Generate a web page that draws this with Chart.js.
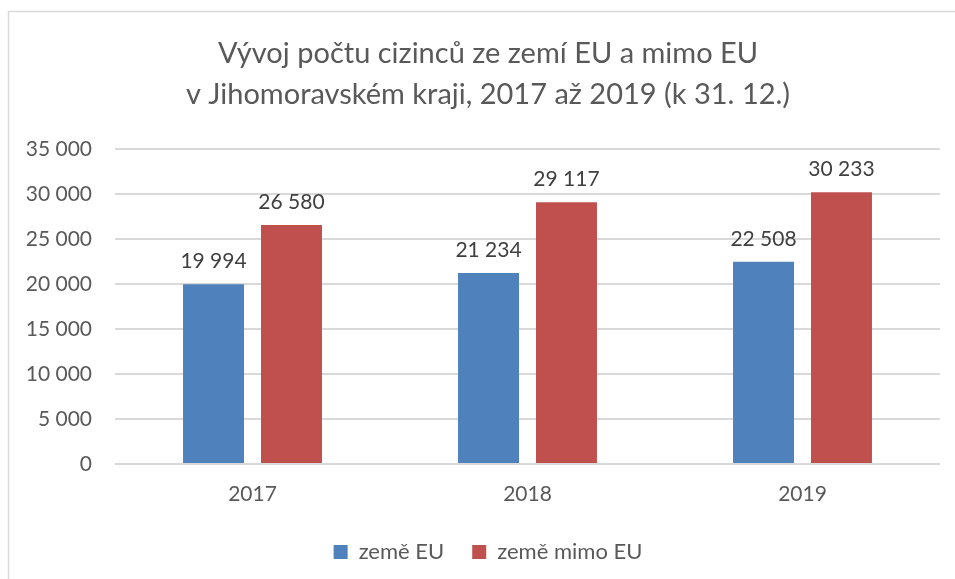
<!DOCTYPE html>
<html><head><meta charset="utf-8">
<script src="https://cdn.jsdelivr.net/npm/chart.js@4"></script>
<style>html,body{margin:0;padding:0;background:#fff}#wrap{width:955px;height:579px}</style>
</head><body><div id="wrap"><canvas id="c" width="955" height="579"></canvas></div>
<script>
const categories = ['2017', '2018', '2019'];
const seriesEU = [19994, 21234, 22508];
const seriesNonEU = [26580, 29117, 30233];
const seriesNames = ['země EU', 'země mimo EU'];
const titleLines = ['Vývoj počtu cizinců ze zemí EU a mimo EU', 'v Jihomoravském kraji, 2017 až 2019 (k 31. 12.)'];

const fmt = v => String(v).replace(/\B(?=(\d{3})+(?!\d))/g, ' ');
const FONT = 'Lato, "Open Sans", sans-serif';

const frame = {
  id: 'frame',
  beforeDraw(chart) {
    const ctx = chart.ctx;
    ctx.save();
    ctx.fillStyle = '#fff';
    ctx.fillRect(0, 0, chart.width, chart.height);
    ctx.strokeStyle = '#d9d9d9';
    ctx.lineWidth = 1.5;
    ctx.strokeRect(8.5, 11.5, 2000, 2000);
    ctx.restore();
  }
};
const labels = {
  id: 'labels',
  afterDatasetsDraw(chart) {
    const ctx = chart.ctx;
    ctx.save();
    ctx.font = '21px ' + FONT;
    ctx.fillStyle = '#404040';
    ctx.textAlign = 'center';
    ctx.textBaseline = 'alphabetic';
    chart.data.datasets.forEach((ds, i) => {
      chart.getDatasetMeta(i).data.forEach((bar, j) => {
        ctx.fillText(fmt(ds.data[j]), bar.x, bar.y - 16);
      });
    });
    ctx.restore();
  }
};

new Chart(document.getElementById('c'), {
  type: 'bar',
  data: {
    labels: categories,
    datasets: [
      { label: seriesNames[0], data: seriesEU, backgroundColor: '#4f81bd', borderWidth: 0 },
      { label: seriesNames[1], data: seriesNonEU, backgroundColor: '#c0504d', borderWidth: 0 }
    ]
  },
  options: {
    responsive: false,
    animation: false,
    devicePixelRatio: 1,
    layout: { padding: { left: 36, right: 15, top: 0, bottom: 6 } },
    datasets: { bar: { categoryPercentage: 0.567, barPercentage: 0.782 } },
    scales: {
      x: {
        afterFit(s) { s.height = 49; },
        grid: { display: false, drawTicks: false },
        border: { display: false },
        ticks: { color: '#595959', font: { family: FONT, size: 21 }, padding: 18 }
      },
      y: {
        min: 0, max: 35000,
        afterFit(s) { s.width = 79; s._computeLabelArea = () => undefined; },
        grid: { color: '#d9d9d9', lineWidth: 2, drawTicks: false },
        border: { display: false },
        ticks: { stepSize: 5000, color: '#595959', font: { family: FONT, size: 21 }, padding: 23, callback: v => fmt(v) }
      }
    },
    plugins: {
      title: {
        display: true, text: titleLines, color: '#595959',
        font: { family: FONT, size: 29, weight: 'normal', lineHeight: 1.42 },
        padding: { top: 33, bottom: 34 }
      },
      legend: {
        position: 'bottom',
        labels: { color: '#595959', font: { family: FONT, size: 22 }, boxWidth: 14, boxHeight: 14, padding: 28 }
      },
      tooltip: { enabled: false }
    }
  },
  plugins: [frame, labels]
});
</script></body></html>
